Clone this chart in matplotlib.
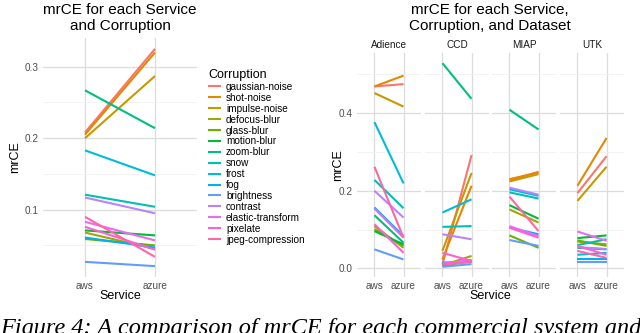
import matplotlib
matplotlib.use("Agg")
import matplotlib.pyplot as plt

plt.rcParams['font.family'] = ['Liberation Sans', 'DejaVu Sans']

services = ['aws', 'azure']
corruptions = ['gaussian-noise', 'shot-noise', 'impulse-noise', 'defocus-blur',
               'glass-blur', 'motion-blur', 'zoom-blur', 'snow', 'frost', 'fog',
               'brightness', 'contrast', 'elastic-transform', 'pixelate',
               'jpeg-compression']
colors = ['#F8766D', '#E58700', '#C99800', '#A3A500', '#6BB100', '#00BA38',
          '#00BF7D', '#00C0AF', '#00BCD8', '#00B0F6', '#619CFF', '#B983FF',
          '#E76BF3', '#FD61D1', '#FF67A4']

# overall mrCE (left panel)
all_aws = [0.208, 0.205, 0.200, 0.068, 0.059, 0.071, 0.267, 0.121, 0.183, 0.061,
           0.027, 0.117, 0.083, 0.076, 0.090]
all_azure = [0.325, 0.320, 0.287, 0.045, 0.050, 0.064, 0.214, 0.104, 0.148, 0.047,
             0.021, 0.095, 0.057, 0.044, 0.034]

# per dataset (right panels)
datasets = ['Adience', 'CCD', 'MIAP', 'UTK']
adience_aws = [0.469, 0.469, 0.452, 0.109, 0.101, 0.096, 0.137, 0.228, 0.377, 0.157,
               0.049, 0.200, 0.154, 0.114, 0.262]
adience_azure = [0.475, 0.497, 0.417, 0.053, 0.058, 0.062, 0.066, 0.155, 0.219, 0.083,
                 0.023, 0.131, 0.079, 0.040, 0.079]
ccd_aws = [0.010, 0.023, 0.045, 0.008, 0.006, 0.010, 0.529, 0.107, 0.144, 0.015,
           0.004, 0.088, 0.012, 0.040, 0.010]
ccd_azure = [0.292, 0.213, 0.246, 0.032, 0.020, 0.018, 0.437, 0.109, 0.178, 0.017,
             0.011, 0.075, 0.022, 0.019, 0.016]
miap_aws = [0.227, 0.230, 0.224, 0.152, 0.085, 0.163, 0.409, 0.196, 0.204, 0.105,
            0.073, 0.208, 0.109, 0.105, 0.185]
miap_azure = [0.249, 0.247, 0.243, 0.118, 0.053, 0.128, 0.358, 0.180, 0.187, 0.088,
              0.058, 0.190, 0.083, 0.079, 0.096]
utk_aws = [0.194, 0.213, 0.174, 0.069, 0.072, 0.078, 0.053, 0.060, 0.035, 0.024,
           0.016, 0.055, 0.095, 0.058, 0.045]
utk_azure = [0.289, 0.336, 0.262, 0.062, 0.058, 0.085, 0.049, 0.075, 0.040, 0.024,
             0.016, 0.050, 0.071, 0.035, 0.027]
per_dataset = [(adience_aws, adience_azure), (ccd_aws, ccd_azure),
               (miap_aws, miap_azure), (utk_aws, utk_azure)]

W, H = 640, 333
fig = plt.figure(figsize=(W / 100, H / 100), dpi=100)


def box(l, t, w, h):
    return [l / W, 1 - (t + h) / H, w / W, h / H]


def ftext(x, y, s, **kw):
    fig.text(x / W, 1 - y / H, s, ha=kw.pop('ha', 'center'), va=kw.pop('va', 'center'), **kw)


def style(ax, major, minor, labels):
    for sp in ax.spines.values():
        sp.set_visible(False)
    ax.set_xticks([0, 1])
    ax.set_xticklabels(services)
    ax.set_xlim(-0.6, 1.6)
    ax.set_yticks(major)
    ax.set_yticks(minor, minor=True)
    ax.set_yticklabels(labels)
    ax.tick_params(which='both', length=0, labelsize=7.2, labelcolor='#4D4D4D', pad=3)
    ax.grid(True, which='major', color='#DCDCDC', lw=0.9)
    ax.grid(True, which='minor', axis='y', color='#F0F0F0', lw=0.6)
    ax.set_axisbelow(True)


# left panel
ax = fig.add_axes(box(43, 38, 154, 239))
for name, c, a, b in zip(corruptions, colors, all_aws, all_azure):
    ax.plot([0, 1], [a, b], color=c, lw=1.5, label=name, solid_capstyle='butt')
style(ax, [0.1, 0.2, 0.3], [0.05, 0.15, 0.25], ['0.1', '0.2', '0.3'])
leg = ax.legend(title='Corruption', loc='upper left', bbox_to_anchor=(203 / W, 1 - 64 / H),
                bbox_transform=fig.transFigure, frameon=False, fontsize=7.2,
                title_fontsize=9, handlelength=1.3, handletextpad=0.5,
                labelspacing=0.09, borderpad=0)
leg._legend_box.align = 'left'

ftext(120, 10, 'mrCE for each Service', fontsize=11)
ftext(120, 26, 'and Corruption', fontsize=11)
ftext(15, 157, 'mrCE', fontsize=9, rotation=90)
ftext(120, 296, 'Service', fontsize=9)

# right facets
lefts = [357, 425, 492, 560]
axes = []
for i, (ds, (aws, azure)) in enumerate(zip(datasets, per_dataset)):
    a2 = fig.add_axes(box(lefts[i], 53, 64, 224), sharey=axes[0] if axes else None)
    axes.append(a2)
    for c, a, b in zip(colors, aws, azure):
        a2.plot([0, 1], [a, b], color=c, lw=1.5, solid_capstyle='butt')
    style(a2, [0.0, 0.2, 0.4], [0.1, 0.3, 0.5], ['0.0', '0.2', '0.4'])
    if i > 0:
        a2.tick_params(axis='y', labelleft=False)
    ftext(lefts[i] + 32, 45, ds, fontsize=7.2, color='#1A1A1A')

ftext(490, 10, 'mrCE for each Service,', fontsize=11)
ftext(490, 26, 'Corruption, and Dataset', fontsize=11)
ftext(338, 165, 'mrCE', fontsize=9, rotation=90)
ftext(490, 296, 'Service', fontsize=9)

# caption, cut by the bottom edge as in the source page
ftext(0, 318, 'Figure 4: A comparison of mrCE for each commercial system and',
      ha='left', va='top', fontsize=17.5, family='Liberation Serif', style='italic')

fig.savefig('out.png', dpi=100)
